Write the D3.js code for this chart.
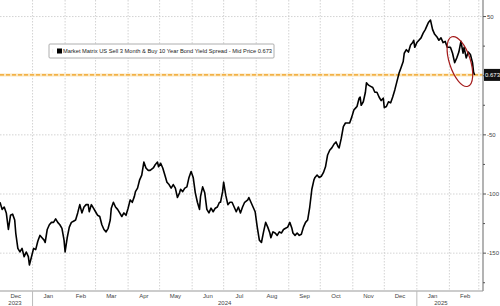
<!DOCTYPE html>
<html>
<head>
<meta charset="utf-8">
<script src="https://cdn.jsdelivr.net/npm/d3@7"></script>
<style>
  body { margin: 0; background: #fff; }
  svg { display: block; font-family: "Liberation Sans", Arial, sans-serif; }
</style>
</head>
<body>
<div id="chart"></div>
<script>
// 3M / 10Y spread, bp
const dates = [
  "2023-12-01","2023-12-03","2023-12-05","2023-12-07","2023-12-09","2023-12-11","2023-12-13","2023-12-15",
  "2023-12-16","2023-12-18","2023-12-20","2023-12-22","2023-12-24","2023-12-26","2023-12-28","2023-12-29",
  "2023-12-31","2024-01-02","2024-01-04","2024-01-06","2024-01-08","2024-01-10","2024-01-12","2024-01-13",
  "2024-01-15","2024-01-17","2024-01-19","2024-01-21","2024-01-23","2024-01-25","2024-01-27","2024-01-29",
  "2024-01-31","2024-02-01","2024-02-03","2024-02-05","2024-02-07","2024-02-09","2024-02-11","2024-02-13",
  "2024-02-15","2024-02-17","2024-02-19","2024-02-21","2024-02-23","2024-02-24","2024-02-26","2024-02-28",
  "2024-03-01","2024-03-03","2024-03-05","2024-03-07","2024-03-09","2024-03-11","2024-03-13","2024-03-15",
  "2024-03-16","2024-03-18","2024-03-20","2024-03-22","2024-03-24","2024-03-26","2024-03-28","2024-03-30",
  "2024-04-01","2024-04-03","2024-04-05","2024-04-07","2024-04-08","2024-04-10","2024-04-12","2024-04-14",
  "2024-04-16","2024-04-18","2024-04-20","2024-04-22","2024-04-25","2024-04-27","2024-04-29","2024-04-30",
  "2024-05-02","2024-05-04","2024-05-06","2024-05-08","2024-05-10","2024-05-12","2024-05-14","2024-05-16",
  "2024-05-18","2024-05-20","2024-05-21","2024-05-23","2024-05-25","2024-05-27","2024-05-29","2024-05-31",
  "2024-06-02","2024-06-04","2024-06-06","2024-06-08","2024-06-09","2024-06-11","2024-06-13","2024-06-15",
  "2024-06-17","2024-06-19","2024-06-21","2024-06-23","2024-06-25","2024-06-27","2024-06-28","2024-06-30",
  "2024-07-01","2024-07-03","2024-07-05","2024-07-07","2024-07-09","2024-07-11","2024-07-13","2024-07-15",
  "2024-07-17","2024-07-19","2024-07-21","2024-07-24","2024-07-25","2024-07-27","2024-07-29","2024-07-31",
  "2024-08-02","2024-08-04","2024-08-06","2024-08-08","2024-08-10","2024-08-12","2024-08-14","2024-08-15",
  "2024-08-17","2024-08-19","2024-08-21","2024-08-23","2024-08-25","2024-08-27","2024-08-29","2024-08-31",
  "2024-09-02","2024-09-04","2024-09-05","2024-09-07","2024-09-09","2024-09-11","2024-09-13","2024-09-15",
  "2024-09-17","2024-09-19","2024-09-21","2024-09-23","2024-09-25","2024-09-26","2024-09-28","2024-09-30",
  "2024-10-02","2024-10-04","2024-10-06","2024-10-08","2024-10-10","2024-10-12","2024-10-14","2024-10-16",
  "2024-10-18","2024-10-19","2024-10-21","2024-10-23","2024-10-25","2024-10-27","2024-10-29","2024-10-31",
  "2024-11-02","2024-11-04","2024-11-05","2024-11-07","2024-11-08","2024-11-09","2024-11-11","2024-11-13",
  "2024-11-14","2024-11-16","2024-11-18","2024-11-20","2024-11-22","2024-11-24","2024-11-26","2024-11-28",
  "2024-11-30","2024-12-01","2024-12-03","2024-12-05","2024-12-07","2024-12-09","2024-12-11","2024-12-13",
  "2024-12-15","2024-12-17","2024-12-19","2024-12-20","2024-12-22","2024-12-24","2024-12-26","2024-12-28",
  "2024-12-29","2024-12-30","2025-01-01","2025-01-03","2025-01-05","2025-01-07","2025-01-09","2025-01-11",
  "2025-01-12","2025-01-14","2025-01-16","2025-01-18","2025-01-20","2025-01-22","2025-01-24","2025-01-26",
  "2025-01-28","2025-01-30","2025-02-01","2025-02-02","2025-02-04","2025-02-06","2025-02-08","2025-02-10",
  "2025-02-12","2025-02-14","2025-02-15","2025-02-17","2025-02-19","2025-02-21","2025-02-23","2025-02-24",
  "2025-02-25"
];
const spread = [
  -107,-113,-111,-116,-130,-118,-117,-122,
  -133,-146,-149,-146,-153,-149,-153,-160,
  -153,-146,-147,-140,-135,-137,-139,-141,
  -130,-126,-124,-124,-121,-124,-126,-129,
  -139,-149,-137,-128,-124,-123,-122,-116,
  -109,-116,-111,-109,-109,-115,-109,-112,
  -115,-118,-119,-126,-130,-132,-129,-122,
  -112,-107,-111,-113,-116,-119,-116,-118,
  -112,-105,-107,-102,-98,-95,-88,-84,
  -73,-78,-80,-80,-78,-75,-73,-77,
  -74,-78,-84,-90,-92,-95,-92,-95,
  -103,-99,-96,-98,-95,-94,-86,-81,
  -86,-99,-107,-113,-102,-94,-99,-113,
  -116,-112,-115,-112,-111,-107,-107,-98,
  -90,-101,-109,-107,-107,-111,-115,-111,
  -116,-111,-107,-105,-103,-107,-111,-115,
  -128,-139,-141,-132,-124,-128,-133,-137,
  -132,-133,-135,-132,-133,-130,-129,-128,
  -124,-129,-133,-135,-133,-135,-134,-128,
  -124,-122,-111,-96,-88,-86,-84,-86,
  -85,-82,-77,-67,-63,-61,-58,-56,
  -60,-61,-53,-43,-40,-40,-40,-35,
  -29,-27,-26,-19,-18,-25,-22,-14,
  -6,-8,-9,-10,-14,-14,-18,-21,
  -19,-27,-26,-22,-23,-18,-12,-5,
  2,7,12,19,22,20,26,28,
  30,24,28,30,32,36,39,43,
  45,47,39,35,33,30,32,28,
  29,24,24,24,19,11,15,20,
  29,19,24,15,20,18,11,3,
  0.673
];
const lastPrice = 0.673;

const monthLabels = ["Dec","Jan","Feb","Mar","Apr","May","Jun","Jul","Aug","Sep","Oct","Nov","Dec","Jan","Feb"];
const yearLabels = [
  { year: "2023", from: "2023-12-01", to: "2024-01-01" },
  { year: "2024", from: "2024-01-01", to: "2025-01-01" },
  { year: "2025", from: "2025-01-01", to: "2025-03-07" }
];
const yTicks = [50, 25, 0, -25, -50, -75, -100, -125, -150, -175];
const legendText = "Market Matrix US Sell 3 Month & Buy 10 Year Bond Yield Spread - Mid Price 0.673";

const width = 500, height = 306;
const plotRight = 483, plotBottom = 291;
const parse = d3.timeParse("%Y-%m-%d");
const series = dates.map((d, i) => ({ date: parse(d), value: spread[i] }));

const x = d3.scaleTime()
  .domain([parse("2023-12-01"), parse("2025-03-05")])
  .range([0, plotRight]);
const y = d3.scaleLinear()
  .domain([-182, 64])
  .range([plotBottom, 0]);

const svg = d3.select("#chart").append("svg")
  .attr("width", width)
  .attr("height", height);

// grid
const monthStarts = d3.timeMonth.range(parse("2024-01-01"), parse("2025-03-05"));
svg.append("g").selectAll("line")
  .data(monthStarts)
  .join("line")
    .attr("x1", d => x(d)).attr("x2", d => x(d))
    .attr("y1", 0).attr("y2", plotBottom)
    .attr("stroke", "#c8c8c8")
    .attr("stroke-width", 0.8)
    .attr("stroke-dasharray", "1.5,1.5");

svg.append("g").selectAll("line")
  .data(yTicks.filter(t => t % 50 === 0 && t !== 0))
  .join("line")
    .attr("x1", 0).attr("x2", plotRight)
    .attr("y1", d => y(d)).attr("y2", d => y(d))
    .attr("stroke", "#c8c8c8")
    .attr("stroke-width", 0.8)
    .attr("stroke-dasharray", "1.5,1.5");

// last price line
svg.append("line")
  .attr("x1", 0).attr("x2", plotRight)
  .attr("y1", y(lastPrice)).attr("y2", y(lastPrice))
  .attr("stroke", "#fbe6bd")
  .attr("stroke-width", 3);
svg.append("line")
  .attr("x1", 0).attr("x2", plotRight)
  .attr("y1", y(lastPrice)).attr("y2", y(lastPrice))
  .attr("stroke", "#f0a020")
  .attr("stroke-width", 1.3)
  .attr("stroke-dasharray", "4,2");

// series
const line = d3.line()
  .x(d => x(d.date))
  .y(d => y(d.value));

svg.append("path")
  .datum(series)
  .attr("fill", "none")
  .attr("stroke", "#000")
  .attr("stroke-width", 1.6)
  .attr("stroke-linejoin", "round")
  .attr("d", line);

// right axis
const axisG = svg.append("g");
axisG.append("line")
  .attr("x1", plotRight).attr("x2", plotRight)
  .attr("y1", 0).attr("y2", plotBottom)
  .attr("stroke", "#8a8a8a")
  .attr("stroke-width", 1.3);
axisG.selectAll(".tick")
  .data(yTicks)
  .join("line")
    .attr("x1", plotRight).attr("x2", d => plotRight + (d % 50 === 0 ? 3 : 2))
    .attr("y1", d => y(d)).attr("y2", d => y(d))
    .attr("stroke", "#555");
axisG.selectAll("text")
  .data(yTicks.filter(t => t % 50 === 0 && t !== 0))
  .join("text")
    .attr("x", plotRight + 4)
    .attr("y", d => y(d) + 2)
    .attr("font-size", 6)
    .attr("fill", "#444")
    .text(d => d);

// price tag
svg.append("rect")
  .attr("x", plotRight + 1).attr("y", y(lastPrice) - 6)
  .attr("width", 17).attr("height", 12)
  .attr("fill", "#111");
svg.append("text")
  .attr("x", plotRight + 2).attr("y", y(lastPrice) + 2)
  .attr("font-size", 6)
  .attr("fill", "#fff")
  .text(lastPrice);

// bottom axis
svg.append("line")
  .attr("x1", 0).attr("x2", plotRight)
  .attr("y1", plotBottom).attr("y2", plotBottom)
  .attr("stroke", "#999");

const monthMids = d3.timeMonth.range(parse("2023-12-01"), parse("2025-03-01"))
  .map(d => d3.timeDay.offset(d, 15));
svg.append("g").selectAll("text")
  .data(monthMids)
  .join("text")
    .attr("x", d => x(d))
    .attr("y", plotBottom + 7)
    .attr("text-anchor", "middle")
    .attr("font-size", 6)
    .attr("fill", "#444")
    .text((d, i) => monthLabels[i]);

svg.append("g").selectAll("text")
  .data(yearLabels)
  .join("text")
    .attr("x", d => d.year === "2023" ? x(parse(d.from)) + 15 : (x(parse(d.from)) + x(parse(d.to))) / 2 - (d.year === "2025" ? 10 : 0))
    .attr("y", plotBottom + 14)
    .attr("text-anchor", "middle")
    .attr("font-size", 6)
    .attr("fill", "#444")
    .text(d => d.year);

svg.append("g").selectAll("line")
  .data([parse("2024-01-01"), parse("2025-01-01")])
  .join("line")
    .attr("x1", d => x(d)).attr("x2", d => x(d))
    .attr("y1", plotBottom).attr("y2", height)
    .attr("stroke", "#bbb");

// legend
const lg = svg.append("g").attr("transform", "translate(49,44)");
lg.append("rect")
  .attr("width", 225).attr("height", 14)
  .attr("fill", "#fff")
  .attr("stroke", "#999")
  .attr("stroke-width", 0.8)
  .attr("rx", 1);
lg.append("text")
  .attr("x", 3).attr("y", 9)
  .attr("font-size", 5)
  .attr("fill", "#bbb")
  .text("⁞");
lg.append("rect")
  .attr("x", 8).attr("y", 4.5)
  .attr("width", 5).attr("height", 5)
  .attr("fill", "#000");
lg.append("text")
  .attr("x", 14).attr("y", 9.3)
  .attr("font-size", 6)
  .attr("fill", "#222")
  .attr("textLength", 209)
  .attr("lengthAdjust", "spacingAndGlyphs")
  .text(legendText);

// red ellipse around the recent drop
const ex = x(parse("2025-02-11")), ey = y(12);
svg.append("ellipse")
  .attr("cx", ex).attr("cy", ey)
  .attr("rx", 10.5).attr("ry", 26)
  .attr("transform", `rotate(-18,${ex},${ey})`)
  .attr("fill", "none")
  .attr("stroke", "#a51c1c")
  .attr("stroke-width", 1.2);
</script>
</body>
</html>
